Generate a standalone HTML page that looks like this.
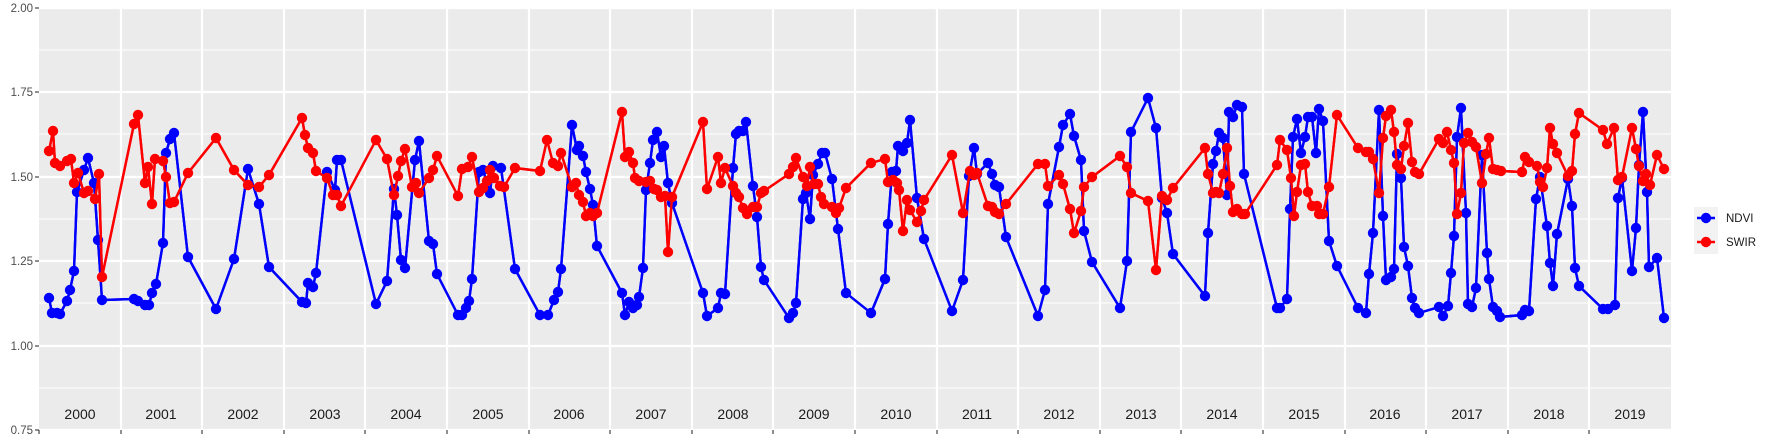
<!DOCTYPE html>
<html><head><meta charset="utf-8"><style>
html,body{margin:0;padding:0;background:#fff;}
svg{display:block;font-family:"Liberation Sans",Arial,sans-serif;}
</style></head><body>
<svg width="1773" height="442" viewBox="0 0 1773 442" xmlns="http://www.w3.org/2000/svg">
<defs>
<marker id="mb" markerUnits="userSpaceOnUse" markerWidth="12" markerHeight="12" refX="6" refY="6"><circle cx="6" cy="6" r="5.2" fill="#0000ff"/></marker>
<marker id="mr" markerUnits="userSpaceOnUse" markerWidth="12" markerHeight="12" refX="6" refY="6"><circle cx="6" cy="6" r="5.2" fill="#ff0000"/></marker>
</defs>
<rect x="39" y="8" width="1632" height="422" fill="#ebebeb"/>
<g stroke="#fff" stroke-width="1">
<line x1="39" x2="1671" y1="50" y2="50"/><line x1="39" x2="1671" y1="134" y2="134"/><line x1="39" x2="1671" y1="219" y2="219"/><line x1="39" x2="1671" y1="303" y2="303"/><line x1="39" x2="1671" y1="388" y2="388"/>
</g>
<g stroke="#fff" stroke-width="2.2">
<line x1="39" x2="1671" y1="8" y2="8"/><line x1="39" x2="1671" y1="92" y2="92"/><line x1="39" x2="1671" y1="177" y2="177"/><line x1="39" x2="1671" y1="261" y2="261"/><line x1="39" x2="1671" y1="346" y2="346"/><line x1="39" x2="1671" y1="430" y2="430"/>
<line x1="121" x2="121" y1="8" y2="430"/><line x1="202" x2="202" y1="8" y2="430"/><line x1="284" x2="284" y1="8" y2="430"/><line x1="365" x2="365" y1="8" y2="430"/><line x1="447" x2="447" y1="8" y2="430"/><line x1="529" x2="529" y1="8" y2="430"/><line x1="610" x2="610" y1="8" y2="430"/><line x1="692" x2="692" y1="8" y2="430"/><line x1="773" x2="773" y1="8" y2="430"/><line x1="855" x2="855" y1="8" y2="430"/><line x1="937" x2="937" y1="8" y2="430"/><line x1="1018" x2="1018" y1="8" y2="430"/><line x1="1100" x2="1100" y1="8" y2="430"/><line x1="1181" x2="1181" y1="8" y2="430"/><line x1="1263" x2="1263" y1="8" y2="430"/><line x1="1345" x2="1345" y1="8" y2="430"/><line x1="1426" x2="1426" y1="8" y2="430"/><line x1="1508" x2="1508" y1="8" y2="430"/><line x1="1589" x2="1589" y1="8" y2="430"/>
</g>
<g stroke="#333" stroke-width="1.1">
<line x1="35" x2="39" y1="8" y2="8"/><line x1="35" x2="39" y1="92" y2="92"/><line x1="35" x2="39" y1="177" y2="177"/><line x1="35" x2="39" y1="261" y2="261"/><line x1="35" x2="39" y1="346" y2="346"/><line x1="35" x2="39" y1="430" y2="430"/>
<line x1="39" x2="39" y1="430" y2="434"/><line x1="121" x2="121" y1="430" y2="434"/><line x1="202" x2="202" y1="430" y2="434"/><line x1="284" x2="284" y1="430" y2="434"/><line x1="365" x2="365" y1="430" y2="434"/><line x1="447" x2="447" y1="430" y2="434"/><line x1="529" x2="529" y1="430" y2="434"/><line x1="610" x2="610" y1="430" y2="434"/><line x1="692" x2="692" y1="430" y2="434"/><line x1="773" x2="773" y1="430" y2="434"/><line x1="855" x2="855" y1="430" y2="434"/><line x1="937" x2="937" y1="430" y2="434"/><line x1="1018" x2="1018" y1="430" y2="434"/><line x1="1100" x2="1100" y1="430" y2="434"/><line x1="1181" x2="1181" y1="430" y2="434"/><line x1="1263" x2="1263" y1="430" y2="434"/><line x1="1345" x2="1345" y1="430" y2="434"/><line x1="1426" x2="1426" y1="430" y2="434"/><line x1="1508" x2="1508" y1="430" y2="434"/><line x1="1589" x2="1589" y1="430" y2="434"/>
</g>
<g fill="#4d4d4d" font-size="11.5" text-anchor="end">
<text x="33" y="12">2.00</text><text x="33" y="96">1.75</text><text x="33" y="181">1.50</text><text x="33" y="265">1.25</text><text x="33" y="350">1.00</text><text x="33" y="434">0.75</text>
</g>
<g fill="#1a1a1a" font-size="14" text-anchor="middle">
<text x="80" y="419">2000</text><text x="161" y="419">2001</text><text x="243" y="419">2002</text><text x="325" y="419">2003</text><text x="406" y="419">2004</text><text x="488" y="419">2005</text><text x="569" y="419">2006</text><text x="651" y="419">2007</text><text x="733" y="419">2008</text><text x="814" y="419">2009</text><text x="896" y="419">2010</text><text x="977" y="419">2011</text><text x="1059" y="419">2012</text><text x="1141" y="419">2013</text><text x="1222" y="419">2014</text><text x="1304" y="419">2015</text><text x="1385" y="419">2016</text><text x="1467" y="419">2017</text><text x="1549" y="419">2018</text><text x="1630" y="419">2019</text>
</g>
<polyline id="pb" fill="none" stroke="#0000ff" stroke-width="2.4" stroke-linejoin="round" points="49,298 52,313 57,313 60,314 67,301 70,290 74,271 77,192 84,170 88,158 94,183 98,240 102,300 134,299 138,301 145,305 149,305 152,293 156,284 163,243 166,153 170,139 174,133 188,257 216,309 234,259 248,169 259,204 269,267 302,302 306,303 308,283 313,287 316,273 327,172 335,190 337,160 341,160 376,304 387,281 394,189 397,215 401,260 405,268 415,160 419,141 429,241 433,244 437,274 458,315 462,315 466,308 469,301 472,279 479,172 483,170 490,193 493,166 501,168 515,269 540,315 548,315 554,300 558,292 561,269 572,125 577,150 579,146 583,156 586,172 590,189 593,205 597,246 622,293 625,315 629,302 633,308 637,305 639,297 643,268 646,190 650,163 653,140 657,132 661,157 664,146 668,183 672,203 703,293 707,316 718,308 721,293 725,294 733,168 736,134 739,131 743,131 746,122 753,186 757,217 761,267 764,280 789,318 793,313 796,303 803,199 806,193 810,219 813,175 818,164 822,153 825,153 832,179 838,229 846,293 871,313 885,279 888,224 892,172 896,171 898,146 903,151 907,143 910,120 917,198 924,239 952,311 963,280 969,176 974,148 977,174 988,163 992,174 995,185 999,187 1006,237 1038,316 1045,290 1048,204 1059,147 1063,125 1070,114 1074,136 1081,160 1084,231 1092,262 1120,308 1127,261 1131,132 1148,98 1156,128 1162,198 1167,213 1173,254 1205,296 1208,233 1213,164 1216,151 1219,133 1223,138 1227,195 1229,112 1233,117 1237,105 1242,107 1244,174 1277,308 1280,308 1287,299 1290,209 1293,137 1297,119 1301,153 1305,137 1308,117 1312,117 1316,153 1319,109 1323,121 1329,241 1337,266 1358,308 1366,313 1369,274 1373,233 1379,110 1383,216 1386,280 1391,277 1394,269 1397,154 1401,178 1404,247 1408,266 1412,298 1415,308 1419,313 1439,307 1443,316 1448,306 1451,273 1454,236 1457,137 1461,108 1466,213 1468,304 1472,307 1476,288 1482,155 1487,253 1489,279 1493,307 1497,311 1500,317 1522,315 1525,310 1529,311 1536,199 1540,177 1547,226 1550,263 1553,286 1557,234 1568,179 1572,206 1575,268 1579,286 1603,309 1608,309 1615,305 1618,198 1622,178 1632,271 1636,228 1639,165 1643,112 1647,192 1649,267 1657,258 1664,318"/>
<polyline id="pr" fill="none" stroke="#ff0000" stroke-width="2.4" stroke-linejoin="round" points="49,151 53,131 55,163 60,166 67,161 71,159 74,183 78,173 84,193 88,191 95,199 99,174 102,277 134,124 138,115 145,183 148,167 152,204 155,159 163,161 166,177 170,203 174,202 188,173 216,138 234,170 248,185 259,187 269,175 302,118 305,135 308,148 313,153 316,171 327,178 333,195 337,195 341,206 376,140 387,159 394,195 398,176 401,161 405,149 412,187 416,183 419,193 429,178 433,170 437,156 458,196 462,169 468,167 472,157 479,192 483,188 487,181 490,170 494,178 500,186 504,187 515,168 540,171 547,140 553,163 558,166 561,153 572,187 576,183 579,195 583,202 586,216 590,213 593,216 597,213 622,112 625,157 629,152 633,163 635,178 639,181 646,182 650,181 654,189 657,190 661,197 665,196 668,252 672,197 703,122 707,189 718,157 721,183 725,168 733,186 736,193 739,197 743,208 747,214 753,207 757,207 761,193 764,191 789,174 793,167 796,158 803,177 807,186 810,167 814,184 818,184 821,197 824,204 832,207 836,213 839,208 846,188 871,163 885,159 888,182 893,180 897,183 899,190 903,231 907,200 910,210 917,222 921,211 924,200 952,155 963,213 970,171 974,175 977,173 988,206 992,207 995,212 999,214 1006,204 1038,164 1045,164 1048,186 1059,175 1063,184 1070,209 1074,233 1081,211 1084,187 1092,177 1120,156 1127,167 1131,193 1148,201 1156,270 1162,196 1167,200 1173,188 1205,148 1208,174 1213,193 1216,192 1219,193 1223,174 1227,148 1230,186 1233,212 1237,209 1242,214 1245,214 1277,165 1280,140 1287,150 1291,178 1294,216 1297,192 1301,165 1305,164 1308,192 1312,206 1317,206 1319,214 1323,214 1329,187 1337,115 1358,148 1366,152 1369,152 1373,159 1379,193 1383,138 1386,116 1391,110 1394,132 1397,165 1401,169 1404,146 1408,123 1412,162 1415,172 1419,174 1439,139 1443,143 1447,132 1451,150 1454,163 1457,214 1461,193 1464,143 1468,133 1472,142 1476,147 1482,183 1486,154 1489,138 1493,169 1497,170 1501,171 1522,172 1525,157 1529,162 1537,166 1540,182 1543,187 1547,168 1550,128 1553,144 1557,153 1568,176 1572,171 1575,134 1579,113 1603,130 1607,144 1614,128 1618,180 1622,177 1632,128 1636,149 1639,166 1643,181 1646,174 1650,185 1657,155 1664,169"/>
<use href="#pb" stroke="none" marker-start="url(#mb)" marker-mid="url(#mb)" marker-end="url(#mb)"/>
<use href="#pr" stroke="none" marker-start="url(#mr)" marker-mid="url(#mr)" marker-end="url(#mr)"/>
<rect x="1694" y="207" width="24" height="47" fill="#f2f2f2"/>
<line x1="1697" x2="1715" y1="218" y2="218" stroke="#0000ff" stroke-width="2.4"/>
<circle cx="1706" cy="218" r="5.2" fill="#0000ff"/>
<line x1="1697" x2="1715" y1="242" y2="242" stroke="#ff0000" stroke-width="2.4"/>
<circle cx="1706" cy="242" r="5.2" fill="#ff0000"/>
<g font-size="11.5" fill="#1a1a1a"><text x="1726" y="222">NDVI</text><text x="1726" y="246">SWIR</text></g>
</svg>
</body></html>
